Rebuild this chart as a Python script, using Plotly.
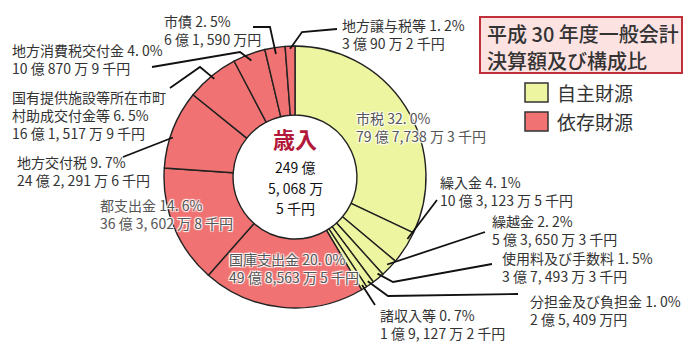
import math
import plotly.graph_objects as go

W, H = 690, 345

# ---------------- data ----------------
categories = ["市税", "繰入金", "繰越金", "使用料及び手数料", "分担金及び負担金", "諸収入等",
              "国庫支出金", "都支出金", "地方交付税", "国有提供施設等所在市町村助成交付金等",
              "地方消費税交付金", "市債", "地方譲与税等"]
shares = [32.0, 4.1, 2.2, 1.5, 1.0, 0.7, 20.0, 14.6, 9.7, 6.5, 4.0, 2.5, 1.2]
amounts = ["79 億 7,738 万 3 千円", "10 億 3, 123 万 5 千円", "5 億 3, 650 万 3 千円",
           "3 億 7, 493 万 3 千円", "2 億 5, 409 万円", "1 億 9, 127 万 2 千円",
           "49 億 8,563 万 5 千円", "36 億 3, 602 万 8 千円", "24 億 2, 291 万 6 千円",
           "16 億 1, 517 万 9 千円", "10 億 870 万 9 千円", "6 億 1, 590 万円", "3 億 90 万 2 千円"]
groups = ["自主財源"] * 6 + ["依存財源"] * 7
group_names = ["自主財源", "依存財源"]
total_title = "歳入"
total_lines = ["249 億", "5, 068 万", "5 千円"]
chart_title = ["平成 30 年度一般会計", "決算額及び構成比"]

# ---------------- style ----------------
group_colors = {"自主財源": "#EEF5A0", "依存財源": "#F07272"}
FONT = "Noto Sans CJK JP"
TXT = "#333333"

# pie placement (pixels)
PX0, PX1, PY0, PY1 = 164, 426, 46, 308
CX, CY, R = (PX0 + PX1) / 2, (PY0 + PY1) / 2, (PX1 - PX0) / 2


def P(x, y):
    return x / W, 1 - y / H


# label layout: name -> (x, y_mid, halo, waypoints, frac within slice, radius frac)
label_layout = {
    "市税": (354, 127.5, True, None, None, None),
    "繰入金": (438, 191, False, [(437, 200)], 0.25, 0.98),
    "繰越金": (490, 229.5, False, [(485, 232)], 0.45, 0.97),
    "使用料及び手数料": (500, 267, False, [(492, 264), (393, 282)], 0.3, 0.97),
    "分担金及び負担金": (528, 310, False, [(518, 294), (388, 296)], 0.5, 0.97),
    "諸収入等": (378, 324, False, [(375, 305)], 0.5, 0.97),
    "国庫支出金": (227, 267.5, True, None, None, None),
    "都支出金": (98, 214, True, None, None, None),
    "地方交付税": (15, 171.5, False, [(123, 157)], 0.4, 0.98),
    "国有提供施設等所在市町村助成交付金等": (10, 115, False, [(170, 88), (200, 67)], 0.5, 0.97),
    "地方消費税交付金": (10, 58.5, False, [(152, 67), (240, 52)], 0.5, 0.95),
    "市債": (162, 30, False, [(253, 27), (270, 27)], 0.5, 0.95),
    "地方譲与税等": (340, 33.5, False, [(337, 29), (302, 32)], 0.5, 0.98),
}
display_names = {"国有提供施設等所在市町村助成交付金等": "国有提供施設等所在市町<br>村助成交付金等"}

fig = go.Figure()
fig.add_trace(go.Pie(
    labels=categories, values=shares, sort=False, direction="clockwise", rotation=0,
    hole=0.473, textinfo="none", hoverinfo="skip", showlegend=False,
    marker=dict(colors=[group_colors[g] for g in groups], line=dict(color="#222222", width=1.4)),
    domain=dict(x=[PX0 / W, PX1 / W], y=[1 - PY1 / H, 1 - PY0 / H]),
))

annotations = []
shapes = []
total = sum(shares)
cum = 0.0
for name, v, amt in zip(categories, shares, amounts):
    start, end = cum, cum + v
    cum = end
    lx, ly, halo, way, frac, rf = label_layout[name]
    pct = f"{v:.1f}".replace(".", ". ") + "%"
    text = f"{display_names.get(name, name)} {pct}<br>{amt}"
    font = dict(family=FONT, size=14, color="#555555" if halo else TXT)
    if halo:
        font["shadow"] = "1px 1px 1px #fff, -1px -1px 1px #fff, 1px -1px 1px #fff, -1px 1px 1px #fff"
    x, y = P(lx, ly)
    annotations.append(dict(x=x, y=y, xref="paper", yref="paper", text=text, showarrow=False,
                            xanchor="left", yanchor="middle", align="left", font=font))
    if way:
        ang = 2 * math.pi * (start + frac * (end - start)) / total
        ex = CX + R * rf * math.sin(ang)
        ey = CY - R * rf * math.cos(ang)
        pts = list(way) + [(ex, ey)]
        path = "M " + " L ".join(f"{P(a, b)[0]:.5f},{P(a, b)[1]:.5f}" for a, b in pts)
        shapes.append(dict(type="path", xref="paper", yref="paper", path=path,
                           line=dict(color="#111111", width=1.8)))

# centre text
annotations.append(dict(x=P(CX, 138)[0], y=P(CX, 138)[1], xref="paper", yref="paper",
                        text=f"<b>{total_title}</b>", showarrow=False, xanchor="center", yanchor="middle",
                        font=dict(family=FONT, size=22, color="#B3193A")))
for yy, t in zip([167, 188, 208], total_lines):
    annotations.append(dict(x=P(CX, yy)[0], y=P(CX, yy)[1], xref="paper", yref="paper", text=t,
                            showarrow=False, xanchor="center", yanchor="middle",
                            font=dict(family=FONT, size=14, color="#111111")))

# title box
x0, y0 = P(480, 17)
x1, y1 = P(682, 73)
shapes.append(dict(type="rect", xref="paper", yref="paper", x0=x0, y0=y1, x1=x1, y1=y0,
                   fillcolor="#FDE2E2", line=dict(color="#C0303A", width=2)))
for yy, t in zip([33, 60], chart_title):
    annotations.append(dict(x=P(485, yy)[0], y=P(485, yy)[1], xref="paper", yref="paper", text=t,
                            showarrow=False, xanchor="left", yanchor="middle",
                            font=dict(family=FONT, size=20, color=TXT, weight=500)))

# legend
for i, g in enumerate(group_names):
    top = 83 + i * 29
    a0, b0 = P(525, top)
    a1, b1 = P(548, top + 19)
    shapes.append(dict(type="rect", xref="paper", yref="paper", x0=a0, y0=b1, x1=a1, y1=b0,
                       fillcolor=group_colors[g], line=dict(color="#333333", width=1.5)))
    tx, ty = P(555, top + 9.5)
    annotations.append(dict(x=tx, y=ty, xref="paper", yref="paper", text=g, showarrow=False,
                            xanchor="left", yanchor="middle",
                            font=dict(family=FONT, size=19, color=TXT)))

fig.update_layout(width=W, height=H, margin=dict(l=0, r=0, t=0, b=0),
                  paper_bgcolor="white", plot_bgcolor="white",
                  annotations=annotations, shapes=shapes)
fig.write_html("out.html")
